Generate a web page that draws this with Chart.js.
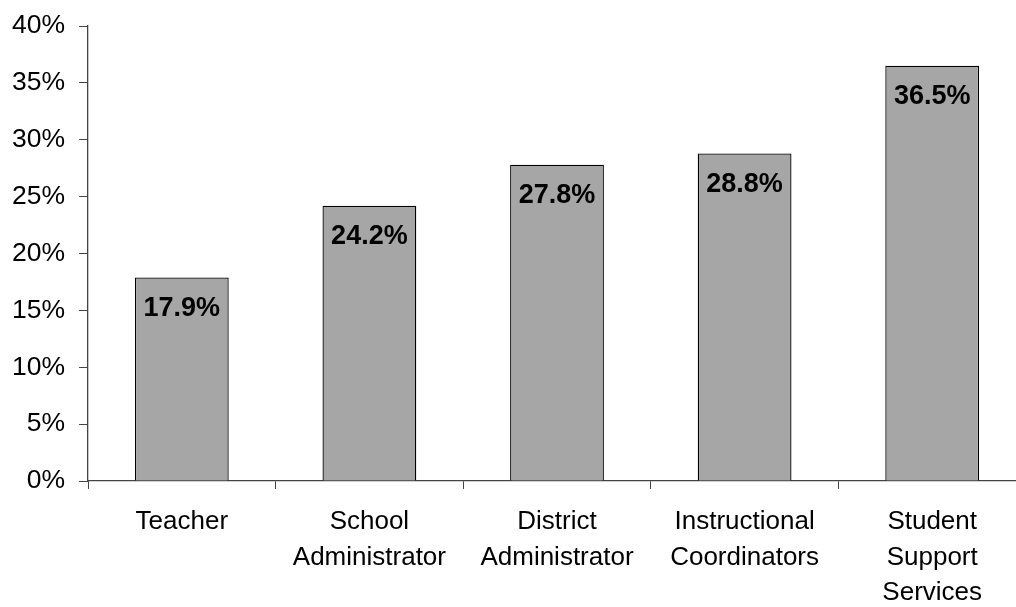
<!DOCTYPE html>
<html>
<head>
<meta charset="utf-8">
<script src="https://cdn.jsdelivr.net/npm/chart.js@4.4.0/dist/chart.umd.min.js"></script>
<style>
  html, body { margin: 0; padding: 0; background: #fff; overflow: hidden; }
  #wrap { position: relative; width: 1030px; height: 607px; }
</style>
</head>
<body>
<div id="wrap"><canvas id="ShareChart"></canvas></div>
<script>
// Categories (multi-line labels) and percentage values
const CATEGORIES = [
  ["Teacher"],
  ["School", "Administrator"],
  ["District", "Administrator"],
  ["Instructional", "Coordinators"],
  ["Student", "Support", "Services"],
];
const VALUES = [17.9, 24.2, 27.8, 28.8, 36.5];
const Y_MIN = 0;
const Y_MAX = 40;
const Y_STEP = 5;

const FONT = "Arial, 'Liberation Sans', sans-serif";

// Draws the bold value label near the top of each bar
const valueLabels = {
  id: "valueLabels",
  afterDatasetsDraw(chart) {
    const ctx = chart.ctx;
    const meta = chart.getDatasetMeta(0);
    ctx.save();
    ctx.font = "bold 27px " + FONT;
    ctx.fillStyle = "#000";
    ctx.textAlign = "center";
    ctx.textBaseline = "middle";
    meta.data.forEach((bar, i) => {
      ctx.fillText(VALUES[i].toFixed(1) + "%", bar.x, bar.y + 31);
    });
    ctx.restore();
  },
};

const CHART_SHARE = document.getElementById("ShareChart");

if (CHART_SHARE != null) {
  let chart_share = new Chart(CHART_SHARE, {
    type: "bar",
    data: {
      labels: CATEGORIES,
      datasets: [
        {
          data: VALUES,
          backgroundColor: "#a6a6a6",
          borderColor: "#000",
          borderWidth: 1.3,
          categoryPercentage: 1.0,
          barPercentage: 0.5,
        },
      ],
    },
    options: {
      responsive: true,
      maintainAspectRatio: false,
      animation: false,
      layout: { padding: { top: 26, right: 4, bottom: 0, left: 0 } },
      plugins: {
        legend: { display: false },
        tooltip: { enabled: false },
      },
      scales: {
        x: {
          afterFit: (scale) => {
            scale.height = 126;
            scale.paddingLeft = 0;
            scale.paddingRight = 0;
          },
          grid: {
            offset: true,
            drawOnChartArea: false,
            drawTicks: true,
            tickLength: 8,
            color: "#444",
          },
          border: { display: true, color: "#444", width: 1.3 },
          ticks: {
            color: "#000",
            padding: 15,
            maxRotation: 0,
            autoSkip: false,
            font: { family: FONT, size: 26, lineHeight: 1.37 },
          },
        },
        y: {
          min: Y_MIN,
          max: Y_MAX,
          afterFit: (scale) => {
            scale.width = 88;
            scale.paddingTop = 0;
            scale.paddingBottom = 0;
          },
          grid: {
            drawOnChartArea: false,
            drawTicks: true,
            tickLength: 9,
            color: "#444",
          },
          border: { display: true, color: "#444", width: 1.3 },
          ticks: {
            stepSize: Y_STEP,
            color: "#000",
            padding: 14,
            font: { family: FONT, size: 26.5 },
            callback: (v) => v + "%",
          },
        },
      },
    },
    plugins: [valueLabels],
  });
}
</script>
</body>
</html>
